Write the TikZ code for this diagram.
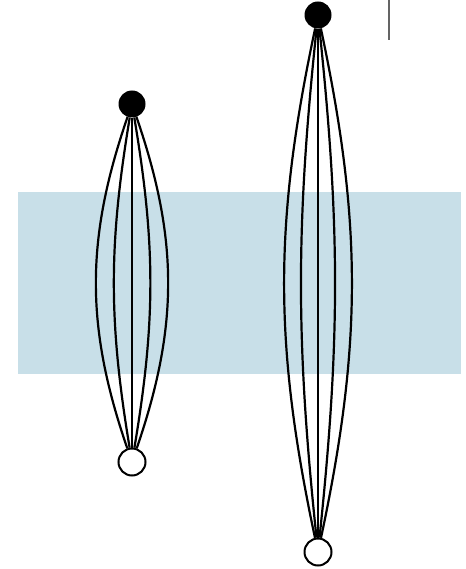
\documentclass[tikz,border=0pt]{standalone}
\usepackage{xcolor}
\usepackage{tikz}
\definecolor{bandblue}{RGB}{200, 223, 232}
\definecolor{markgray}{RGB}{100, 100, 100}

\begin{document}
\begin{tikzpicture}[
  x=1pt, y=-1pt,
  llena/.style={circle, fill=black, inner sep=0pt, minimum size=27pt},
  vacia/.style={circle, draw=black, fill=white, line width=2pt, inner sep=0pt, minimum size=27pt},
  arista/.style={line width=2.2pt, black}
]
\useasboundingbox (0,0) rectangle (465,569);
% Banda
\fill[bandblue] (18,192) rectangle (461,374);
\draw[markgray, line width=1.5pt] (389,0) -- (389,40);
% Nodos
\node[llena] (topa) at (132,104) {};
\node[vacia] (bota) at (132,462) {};
\node[llena] (topb) at (318,15) {};
\node[vacia] (botb) at (318,552) {};
% Aristas
\foreach \ang in {-19,-9.5,0,9.5,19}
  \draw[arista] (topa) to[out=-90-\ang, in=90+\ang] (bota);
\foreach \ang in {-12,-6,0,6,12}
  \draw[arista] (topb) to[out=-90-\ang, in=90+\ang] (botb);
\end{tikzpicture}
\end{document}
